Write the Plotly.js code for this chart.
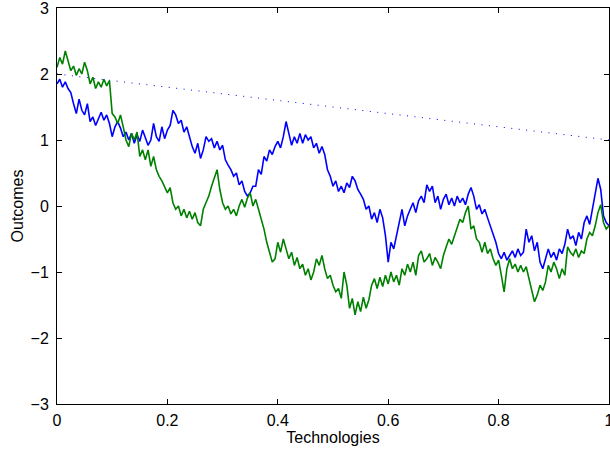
<!DOCTYPE html>
<html>
<head>
<meta charset="utf-8">
<script src="https://cdn.plot.ly/plotly-3.0.1.min.js"></script>
<style>html,body{margin:0;padding:0;background:#fff}#chart{width:610px;height:451px}</style>
</head>
<body>
<div id="chart"></div>
<script>
// Sampled on a uniform grid over [0, 1]
var blueY = [1.85,1.92,1.80,1.88,1.78,1.72,1.55,1.40,1.62,1.45,
1.38,1.55,1.28,1.35,1.22,1.32,1.42,1.30,1.38,1.25,
1.05,1.20,1.28,1.18,1.05,1.12,1.00,1.10,0.95,1.08,
0.98,1.15,1.02,0.92,1.00,1.25,1.05,0.98,1.20,1.02,
1.15,1.22,1.45,1.38,1.25,1.30,1.12,1.20,1.05,0.90,
0.80,0.95,0.72,0.85,1.05,0.98,1.02,0.88,0.98,0.85,
0.92,0.70,0.62,0.55,0.45,0.50,0.32,0.38,0.22,0.15,
0.20,0.30,0.30,0.55,0.48,0.75,0.68,0.85,0.78,0.90,
0.98,0.88,1.05,1.28,1.10,0.92,1.05,0.95,1.10,0.95,
1.08,1.00,1.05,0.88,0.95,0.80,0.90,0.78,0.55,0.45,
0.30,0.38,0.22,0.30,0.20,0.35,0.28,0.45,0.38,0.25,
0.18,0.10,-0.05,0.00,-0.20,-0.10,-0.25,-0.05,-0.18,-0.45,
-0.85,-0.55,-0.65,-0.45,-0.20,-0.05,-0.30,-0.15,-0.05,0.05,
-0.10,0.08,0.15,0.05,0.32,0.22,0.30,0.05,0.15,-0.05,
0.10,0.18,0.02,0.12,0.00,0.15,0.05,0.12,0.02,0.18,
0.28,0.15,-0.05,0.02,-0.12,-0.05,-0.18,-0.30,-0.40,-0.55,
-0.72,-0.80,-0.70,-0.82,-0.75,-0.68,-0.78,-0.65,-0.75,-0.70,
-0.35,-0.55,-0.45,-0.68,-0.55,-0.85,-0.95,-0.80,-0.65,-0.78,
-0.70,-0.82,-0.65,-0.72,-0.58,-0.35,-0.50,-0.45,-0.60,-0.40,
-0.50,-0.25,-0.15,-0.28,-0.05,0.15,0.42,0.25,-0.15,-0.25,
-0.30];

var greenY = [2.10,2.25,2.15,2.35,2.20,2.05,2.12,1.98,2.08,2.00,
2.18,2.05,1.85,1.95,1.78,1.88,1.80,1.92,1.82,1.90,
1.40,1.35,1.25,1.38,1.20,1.00,0.90,1.10,1.00,1.12,
0.75,0.85,0.70,0.85,0.60,0.75,0.55,0.45,0.38,0.30,
0.20,0.28,0.05,-0.05,0.00,-0.15,-0.05,-0.18,-0.08,-0.20,
-0.10,-0.25,-0.30,-0.05,0.05,0.15,0.30,0.42,0.55,0.25,
0.05,-0.05,0.00,-0.12,-0.05,-0.15,0.00,0.10,-0.02,0.12,
0.20,0.00,0.10,-0.05,-0.20,-0.35,-0.55,-0.70,-0.85,-0.80,
-0.55,-0.70,-0.50,-0.65,-0.80,-0.70,-0.90,-0.78,-0.95,-0.88,
-1.05,-0.95,-1.12,-1.00,-0.80,-0.90,-0.75,-0.95,-1.10,-1.05,
-1.20,-1.30,-1.25,-1.40,-1.00,-1.20,-1.55,-1.40,-1.65,-1.45,
-1.60,-1.38,-1.55,-1.42,-1.20,-1.10,-1.25,-1.08,-1.22,-1.05,
-1.18,-1.00,-1.15,-1.05,-1.20,-0.95,-1.05,-0.88,-1.00,-0.85,
-1.05,-0.75,-0.68,-0.85,-0.80,-0.72,-0.90,-0.78,-0.85,-0.95,
-0.75,-0.62,-0.50,-0.58,-0.45,-0.30,-0.20,-0.25,-0.10,0.00,
-0.35,-0.30,-0.50,-0.55,-0.70,-0.55,-0.72,-0.65,-0.80,-0.90,
-0.82,-1.05,-1.30,-0.95,-0.80,-0.95,-0.88,-1.00,-0.90,-1.00,
-0.92,-1.10,-1.30,-1.45,-1.35,-1.20,-1.28,-1.15,-0.90,-1.00,
-0.85,-0.95,-1.10,-0.95,-1.05,-0.62,-0.70,-0.75,-0.65,-0.78,
-0.68,-0.72,-0.50,-0.40,-0.45,-0.30,-0.10,0.02,-0.25,-0.35,
-0.30];

var refX = [0, 1];
var refY = [2, 1];

var xTicks = [0, 0.2, 0.4, 0.6, 0.8, 1];
var xTickText = ['0', '0.2', '0.4', '0.6', '0.8', '1'];
var yTicks = [-3, -2, -1, 0, 1, 2, 3];
var yTickText = ['\u22123', '\u22122', '\u22121', '0', '1', '2', '3'];

function grid(n) { var a = []; for (var i = 0; i < n; i++) a.push(i / (n - 1)); return a; }

var traces = [
  {x: refX, y: refY, mode: 'lines', line: {color: '#0000ff', width: 1, dash: '1px,6.5px'}, hoverinfo: 'skip'},
  {x: grid(blueY.length), y: blueY, mode: 'lines', line: {color: '#0000ff', width: 1.6}},
  {x: grid(greenY.length), y: greenY, mode: 'lines', line: {color: '#008000', width: 1.6}}
];

var font = {family: 'Liberation Sans, Arial, sans-serif', size: 16, color: '#000'};
var layout = {
  width: 610, height: 451,
  margin: {l: 57, r: 1, t: 8, b: 47, pad: 0},
  paper_bgcolor: '#fff', plot_bgcolor: '#fff',
  showlegend: false,
  font: font,
  xaxis: {
    range: [0, 1], tickvals: xTicks, ticktext: xTickText,
    ticks: 'inside', ticklen: 5, tickcolor: '#000', mirror: 'ticks',
    showline: true, linecolor: '#000', linewidth: 1, showgrid: false, zeroline: false,
    tickfont: font, ticklabelstandoff: 2, ticklabeloverflow: 'allow',
    title: {text: 'Technologies', font: font, standoff: 2}
  },
  yaxis: {
    range: [-3, 3], tickvals: yTicks, ticktext: yTickText,
    ticks: 'inside', ticklen: 5, tickcolor: '#000', mirror: 'ticks',
    showline: true, linecolor: '#000', linewidth: 1, showgrid: false, zeroline: false,
    tickfont: font, ticklabelstandoff: 4, ticklabeloverflow: 'allow',
    title: {text: 'Outcomes', font: font, standoff: 2}
  }
};

Plotly.newPlot('chart', traces, layout, {displayModeBar: false, staticPlot: true});
</script>
</body>
</html>
